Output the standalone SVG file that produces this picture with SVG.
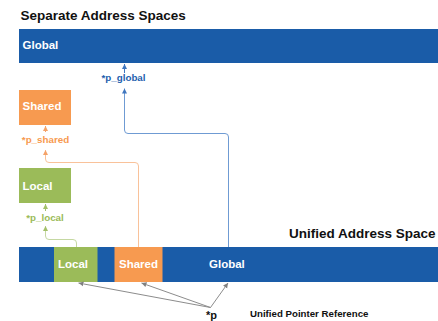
<svg xmlns="http://www.w3.org/2000/svg" width="438" height="321" viewBox="0 0 438 321">
<style>
text{font-family:"Liberation Sans",Arial,sans-serif;font-weight:bold}
.title{font-size:13.5px;fill:#111}
.lbl{font-size:11.5px;fill:#fff}
.ptr{font-size:9.8px}
.blue{fill:#1a5ca8}
.orange{fill:#f79a50}
.green{fill:#9bbb59}
.conn{fill:none;stroke-width:1}
</style>
<defs>
<marker id="ab" markerUnits="userSpaceOnUse" markerWidth="6" markerHeight="6" refX="5" refY="3" orient="auto"><path d="M0,0.5 L5,3 L0,5.5 Z" fill="#3f76bf"/></marker>
<marker id="ao" markerUnits="userSpaceOnUse" markerWidth="6" markerHeight="6" refX="5" refY="3" orient="auto"><path d="M0,0.5 L5,3 L0,5.5 Z" fill="#f5a268"/></marker>
<marker id="ag" markerUnits="userSpaceOnUse" markerWidth="6" markerHeight="6" refX="5" refY="3" orient="auto"><path d="M0,0.5 L5,3 L0,5.5 Z" fill="#a3c06a"/></marker>
<marker id="ay" markerUnits="userSpaceOnUse" markerWidth="6" markerHeight="6" refX="5" refY="3" orient="auto"><path d="M0,0.5 L5,3 L0,5.5 Z" fill="#808080"/></marker>
</defs>
<text class="title" x="20.5" y="20">Separate Address Spaces</text>
<text class="title" x="289" y="238">Unified Address Space</text>
<g id="global-separate"><rect x="19" y="29" width="421" height="34" class="blue"/><text class="lbl" x="22.5" y="49">Global</text></g>
<g id="shared-separate"><rect x="19" y="90" width="52" height="35" class="orange"/><text class="lbl" x="22.5" y="110">Shared</text></g>
<g id="local-separate"><rect x="19" y="168" width="52" height="35" class="green"/><text class="lbl" x="22.5" y="190">Local</text></g>
<g id="unified"><rect x="19" y="247" width="421" height="35" class="blue"/>
<rect x="54" y="247" width="43.5" height="35" class="green"/>
<rect x="114.5" y="247" width="48" height="35" class="orange"/>
<text class="lbl" x="58" y="268">Local</text>
<text class="lbl" x="119" y="268">Shared</text>
<text class="lbl" x="209" y="268">Global</text></g>
<g id="labels">
<text class="ptr" x="123.5" y="81" text-anchor="middle" fill="#1f5fae">*p_global</text>
<text class="ptr" x="45.5" y="143" text-anchor="middle" fill="#f79a50">*p_shared</text>
<text class="ptr" x="45" y="221" text-anchor="middle" fill="#9bbb59">*p_local</text>
<text x="206" y="319" style="font-size:11px" fill="#111">*p</text>
<text x="250" y="317" style="font-size:9.7px" fill="#111">Unified Pointer Reference</text>
</g>
<g id="connectors">
<path class="conn" stroke="#3f76bf" d="M124.5,73 V64" marker-end="url(#ab)"/>
<path class="conn" stroke="#6f9bd3" d="M228.5,247 V137 Q228.5,133.5 225,133.5 H128 Q124.5,133.5 124.5,130 V88.5" marker-end="url(#ab)"/>
<path class="conn" stroke="#f5a268" d="M45.5,132 V126" marker-end="url(#ao)"/>
<path class="conn" stroke="#f9c29a" d="M138.5,247 V166 Q138.5,162.5 135,162.5 H49 Q45.5,162.5 45.5,159 V150" marker-end="url(#ao)"/>
<path class="conn" stroke="#a3c06a" d="M45.5,211 V204" marker-end="url(#ag)"/>
<path class="conn" stroke="#c5d8a2" d="M76.5,247 V243 Q76.5,239.5 73,239.5 H49 Q45.5,239.5 45.5,236 V226" marker-end="url(#ag)"/>
<path class="conn" stroke="#8c8c8c" d="M210.5,307.5 L78.5,283" marker-end="url(#ay)"/>
<path class="conn" stroke="#8c8c8c" d="M210.5,307.5 L141.5,283" marker-end="url(#ay)"/>
<path class="conn" stroke="#8c8c8c" d="M210.5,307.5 L228,283" marker-end="url(#ay)"/>
</g>
</svg>
